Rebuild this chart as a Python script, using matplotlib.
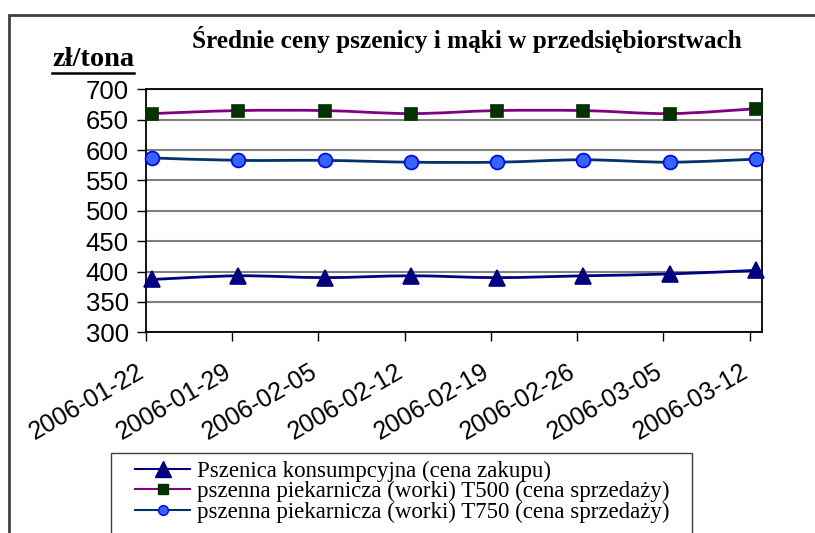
import numpy as np
import matplotlib
matplotlib.use("Agg")
import matplotlib.pyplot as plt
import matplotlib.dates as mdates
from matplotlib.path import Path
from matplotlib.patches import PathPatch, Rectangle
from matplotlib.lines import Line2D

dates = ["2006-01-22", "2006-01-29", "2006-02-05", "2006-02-12",
         "2006-02-19", "2006-02-26", "2006-03-05", "2006-03-12"]
konsumpcyjna = [387, 393, 390, 393, 390, 393, 396, 402]
t500 = [660, 665, 665, 660, 665, 665, 660, 668]
t750 = [587, 583, 583, 580, 580, 584, 580, 585]

labels = ["Pszenica konsumpcyjna (cena zakupu)",
          "pszenna piekarnicza (worki) T500 (cena sprzedaży)",
          "pszenna piekarnicza (worki) T750 (cena sprzedaży)"]
title = "Średnie ceny pszenicy i mąki w przedsiębiorstwach"
unit = "zł/tona"

sans = "Liberation Sans"
serif = "Liberation Serif"

day0 = mdates.date2num(np.datetime64(dates[0]))
tick_x = mdates.date2num(np.array(dates, dtype="datetime64[D]"))
# excel date axis: points sit in the middle of their day
px = tick_x + 0.5


def smooth_path(x, y):
    # excel style smoothed line (bezier, catmull-rom tangents)
    pts = np.column_stack([x, y]).astype(float)
    verts = [pts[0]]
    codes = [Path.MOVETO]
    n = len(pts)
    for i in range(n - 1):
        p0 = pts[max(i - 1, 0)]
        p1 = pts[i]
        p2 = pts[i + 1]
        p3 = pts[min(i + 2, n - 1)]
        c1 = p1 + (p2 - p0) / 6.0
        c2 = p2 - (p3 - p1) / 6.0
        verts += [c1, c2, p2]
        codes += [Path.CURVE4] * 3
    return Path(verts, codes)


fig = plt.figure(figsize=(8.15, 5.33), dpi=100)
ax = fig.add_axes([146 / 815, 1 - 332.3 / 533, 616 / 815, 243 / 533])

# values, line colour, marker, face, edge, size in plot, size in legend
series = [
    (konsumpcyjna, "#000080", "^", "#000080", "#000080", 11, 11),
    (t500, "#800080", "s", "#003300", "#003300", 8, 6.5),
    (t750, "#003366", "o", "#3366FF", "#0000FF", 10, 7),
]

handles = []
for vals, lc, mk, mfc, mec, ms, lms in series:
    ax.add_patch(PathPatch(smooth_path(px, vals), facecolor="none",
                           edgecolor=lc, lw=2, zorder=3))
    ax.plot(px, vals, linestyle="none", marker=mk, ms=ms, mfc=mfc,
            mec=mec, mew=1.2, zorder=4, clip_on=False)
    handles.append(Line2D([], [], color=lc, lw=1.5, marker=mk,
                          ms=lms, mfc=mfc, mec=mec))

ax.set_xlim(day0, day0 + 50)
ax.set_ylim(300, 700)
ax.set_yticks(np.arange(300, 701, 50))
ax.set_xticks(tick_x)
ax.set_xticklabels(dates, rotation=30, ha="right", va="baseline",
                   rotation_mode="anchor", fontsize=18, family=sans)
for t in ax.get_yticklabels():
    t.set_fontsize(18.5)
    t.set_family(sans)
ax.tick_params(axis="both", direction="out", length=6.5, width=1,
               color="black")
ax.tick_params(axis="y", pad=6)
ax.tick_params(axis="x", pad=25)
ax.grid(axis="y", color="#808080", lw=1.5)
ax.set_axisbelow(True)
for s in ax.spines.values():
    s.set_color("black")
    s.set_linewidth(1.3)

fig.text(466.5 / 815, 1 - 48.3 / 533, title, ha="center", va="baseline",
         fontsize=18.2, fontweight="bold", family=serif)
fig.text(52 / 815, 1 - 66.5 / 533, unit, ha="left", va="baseline",
         fontsize=20.5, fontweight="bold", family=serif)
fig.add_artist(Line2D([52 / 815, 134 / 815], [1 - 73.3 / 533, 1 - 73.3 / 533],
                      color="black", lw=1.8))

# chart area border (cut by the picture edge)
fig.add_artist(Rectangle((9 / 815, -0.2), 1.1, 1.2 - 15 / 533,
                         transform=fig.transFigure, fill=False,
                         edgecolor="#404040", lw=2))
# legend box
fig.add_artist(Rectangle((110.7 / 815, -0.1), (692 - 110.7) / 815,
                         0.1 + 1 - 452.6 / 533, transform=fig.transFigure,
                         fill=False, edgecolor="#404040", lw=1))
fig.legend(handles, labels, loc="upper left",
           bbox_to_anchor=(135 / 815, 1 - 461 / 533), frameon=False,
           prop={"family": serif, "size": 16.5}, handlelength=2.4,
           handletextpad=0.3, labelspacing=-0.04, borderpad=0,
           borderaxespad=0)

fig.savefig("out.png", dpi=100)
